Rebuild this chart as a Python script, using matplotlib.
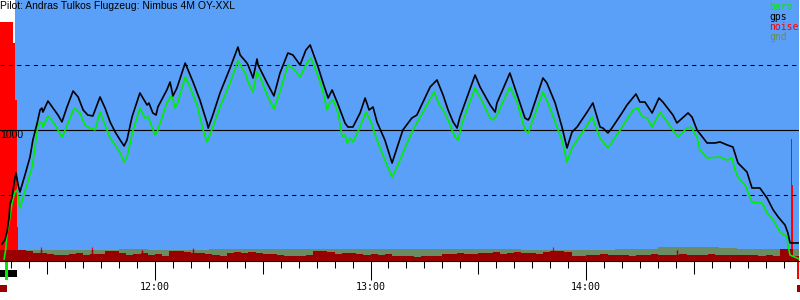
import numpy as np
import matplotlib
matplotlib.use("Agg")
import matplotlib.pyplot as plt
import matplotlib.transforms as mtransforms

title = "Pilot: Andras Tulkos Flugzeug: Nimbus 4M OY-XXL"
legend_names = ["baro", "gps", "noise", "gnd"]

# times in minutes after midnight, altitudes in metres
gps_t = [677.4, 678.2, 678.8, 679.4, 679.6, 680.2, 680.5, 681.0, 681.3, 681.9,
         682.4, 683.8, 685.2, 686.0, 687.2, 688.0, 688.5, 688.8, 690.2, 691.6,
         693.0, 694.1, 695.5, 697.2, 698.6, 700.0, 701.3, 702.7, 704.7, 706.1,
         707.5, 708.9, 710.3, 711.4, 712.2, 713.6, 715.8, 717.8, 718.3, 719.4,
         720.3, 720.8, 723.3, 724.2, 725.0, 726.1, 728.4, 729.2, 730.6, 732.5,
         734.5, 734.8, 736.1, 738.1, 740.9, 743.1, 743.7, 745.6, 745.9, 747.3,
         748.4, 748.7, 751.2, 753.1, 754.8, 757.0, 758.4, 760.4, 762.0, 763.2,
         765.4, 766.8, 768.2, 769.3, 770.7, 772.9, 773.7, 775.1, 777.1, 778.5,
         779.6, 780.7, 781.8, 784.0, 786.0, 789.0, 791.5, 792.9, 796.6, 798.5,
         800.2, 801.6, 803.0, 804.1, 804.9, 809.1, 810.5, 813.3, 814.7, 815.2,
         818.8, 820.2, 823.0, 823.9, 824.4, 828.0, 829.1, 831.4, 833.3, 834.7,
         836.1, 837.5, 840.3, 841.9, 843.9, 844.7, 846.1, 847.2, 850.0, 851.4,
         853.9, 855.0, 856.4, 858.4, 860.3, 861.4, 864.2, 865.3, 868.4, 869.5,
         870.9, 873.7, 875.9, 877.3, 879.3, 880.9, 882.3, 884.8, 886.2, 888.4,
         890.4, 892.1, 893.5, 895.4, 896.2, 896.8, 899.3]
gps_alt = [123, 154, 215, 331, 423, 485, 538, 631, 669, 577,
           523, 654, 792, 923, 1054, 1154, 1169, 1138, 1223, 1169,
           1115, 1062, 1177, 1300, 1254, 1154, 1115, 1108, 1254, 1169,
           1062, 985, 923, 877, 923, 1100, 1285, 1192, 1208, 1131,
           1115, 1177, 1308, 1369, 1262, 1323, 1515, 1462, 1369, 1231,
           1054, 1015, 1115, 1285, 1477, 1638, 1577, 1515, 1500, 1400,
           1546, 1500, 1362, 1262, 1438, 1592, 1577, 1500, 1615, 1654,
           1485, 1362, 1246, 1308, 1215, 1054, 1023, 1023, 1131, 1246,
           1154, 1177, 1062, 923, 746, 1000, 1092, 1115, 1331, 1385,
           1269, 1154, 1062, 1015, 1100, 1423, 1331, 1192, 1138, 1208,
           1438, 1323, 1092, 1077, 1100, 1400, 1362, 1208, 1023, 862,
           985, 1023, 1138, 1208, 1023, 1015, 977, 1015, 1131, 1192,
           1277, 1215, 1215, 1131, 1246, 1215, 1115, 1054, 1131, 1100,
           1000, 900, 900, 908, 885, 869, 746, 677, 554, 554,
           477, 385, 331, 269, 208, 131, 131]

baro_t = [678.0, 678.5, 678.8, 679.4, 679.9, 680.2, 681.0, 681.6, 682.4, 683.3,
          684.1, 685.8, 686.6, 687.4, 688.0, 688.5, 688.8, 690.2, 691.6, 692.7,
          694.1, 695.0, 697.5, 699.1, 700.5, 701.9, 703.3, 704.7, 706.1, 707.5,
          708.9, 710.3, 711.4, 712.2, 713.9, 715.8, 717.2, 718.1, 720.0, 720.6,
          723.3, 724.7, 725.6, 726.4, 728.4, 729.7, 731.7, 733.4, 734.5, 735.3,
          738.1, 740.9, 743.1, 745.1, 745.9, 747.3, 748.4, 749.2, 751.2, 753.1,
          754.8, 757.0, 758.4, 760.4, 762.3, 763.4, 765.1, 766.5, 767.9, 768.7,
          769.6, 771.0, 772.1, 772.9, 773.5, 774.3, 775.1, 777.1, 778.7, 779.9,
          781.8, 784.0, 786.0, 787.4, 790.2, 791.8, 797.7, 799.3, 800.2, 801.6,
          803.5, 804.4, 805.5, 809.1, 811.3, 813.3, 814.1, 815.2, 818.8, 820.8,
          823.0, 823.9, 828.0, 829.4, 831.4, 833.3, 834.7, 836.1, 840.3, 841.7,
          843.9, 846.1, 849.5, 853.1, 854.5, 855.0, 855.9, 857.0, 858.4, 860.6,
          864.2, 865.6, 868.1, 869.2, 870.9, 871.7, 873.7, 877.3, 879.3, 880.6,
          881.5, 882.3, 884.3, 886.2, 889.0, 890.4, 892.1, 894.0, 896.0, 896.2,
          896.8, 899.3]
baro_alt = [8, 92, 208, 292, 385, 438, 523, 538, 400, 485,
            554, 715, 869, 1038, 1062, 1054, 1023, 1108, 1062, 1015,
            946, 1000, 1169, 1131, 1038, 1015, 1000, 1138, 1038, 938,
            885, 823, 754, 792, 1000, 1169, 1092, 1100, 962, 985,
            1208, 1269, 1169, 1215, 1408, 1331, 1192, 1000, 908, 962,
            1177, 1362, 1531, 1438, 1369, 1292, 1446, 1408, 1269, 1162,
            1292, 1500, 1477, 1408, 1515, 1554, 1438, 1323, 1154, 1215,
            1231, 1131, 946, 962, 900, 938, 908, 1023, 1138, 1077,
            923, 769, 638, 715, 900, 1000, 1292, 1185, 1154, 1077,
            946, 923, 1054, 1323, 1208, 1092, 1077, 1115, 1331, 1215,
            1000, 977, 1292, 1208, 1062, 923, 754, 862, 1038, 1100,
            938, 862, 1000, 1154, 1169, 1131, 1100, 1092, 1023, 1138,
            1000, 946, 1015, 1023, 946, 846, 785, 792, 769, 785,
            692, 638, 577, 446, 438, 362, 308, 215, 177, 115,
            38, 8]

gnd_edges = [676.8, 700, 710, 718, 735, 745, 760, 775, 782, 795,
             810, 822, 835, 842, 848, 860, 877, 882, 899.4]
gnd_alt = [77, 77, 85, 80, 85, 85, 85, 88, 85, 85,
           85, 80, 77, 77, 85, 100, 92, 85]

# engine noise level (0..1000): launch, 2-minute samples 682..896, landing
noise_launch_edges = [676.9, 680.5, 681.0, 681.6, 682.0]
noise_launch = [916, 835, 617, 130]
noise_flight = [42, 38, 31, 31, 27, 23, 23, 27, 31, 23,
                27, 27, 38, 38, 31, 23, 27, 31, 23, 27,
                19, 38, 38, 34, 31, 31, 27, 23, 19, 31,
                34, 31, 34, 31, 27, 27, 23, 19, 19, 19,
                23, 38, 38, 34, 27, 31, 31, 27, 23, 27,
                23, 27, 19, 19, 19, 15, 19, 19, 19, 27,
                27, 31, 27, 27, 31, 31, 34, 27, 31, 34,
                31, 31, 27, 34, 38, 38, 34, 19, 19, 23,
                23, 27, 23, 23, 23, 19, 23, 23, 27, 23,
                23, 23, 27, 23, 23, 23, 27, 23, 23, 23,
                23, 23, 23, 19, 23, 19, 46]
noise_landing_edges = [896.0, 897.0, 897.3, 897.6, 899.3]
noise_landing = [46, 467, 291, 19]
spike_t = [688.3, 702.5, 716.4, 730.6, 830.8, 865.3]
spike_enl = [54, 54, 42, 50, 54, 42]

hour_ticks = [720, 780, 840]
flight_window = (681.0, 899.3)
launch_bar = (676.9, 681.6)
release_bar = (678.2, 679.0)
start_mark = (676.9, 678.8)
landing_bar = (898.8, 899.3)
end_mark = (898.8, 899.5)

BLUE = "#5a9ff8"
GND = "#6b8b62"
DARKRED = "#9b0000"
AX_H = 261.0  # axes height in px

fig = plt.figure(figsize=(8, 3), dpi=100)
ax = fig.add_axes([0, 39 / 300, 799 / 800, 261 / 300])
ax.set_facecolor("white")
ax.set_xlim(676.85, 899.29)
ax.set_ylim(-7.7, 2000)

ax.axvspan(*flight_window, color=BLUE, lw=0, zorder=0.5)

gnd_patch = ax.stairs(gnd_alt, gnd_edges, baseline=-50, fill=True,
                      color=GND, lw=0, zorder=1)

noise_edges = noise_launch_edges + list(np.arange(684, 897, 2)) + noise_landing_edges[1:]
noise_vals = noise_launch + noise_flight + noise_landing
noise_tr = mtransforms.Affine2D().scale(1, 0.001) + ax.get_xaxis_transform()

ax.stairs(noise_vals, noise_edges, fill=True, color="#ff0000", lw=0,
          transform=noise_tr, zorder=2)
ax.vlines(spike_t, 0, spike_enl, color="#ff0000", lw=0.9, transform=noise_tr, zorder=2)
dark = ax.stairs(noise_vals, noise_edges, fill=True, color=DARKRED, lw=0,
                 transform=noise_tr, zorder=2.1)
dark.set_clip_path(gnd_patch)
dark_sp = ax.vlines(spike_t, 0, spike_enl, color=DARKRED, lw=0.9,
                    transform=noise_tr, zorder=2.1)
dark_sp.set_clip_path(gnd_patch)

ax.axhline(1000, color="black", lw=0.8, zorder=3)
for lvl in (500, 1500):
    ax.axhline(lvl, color="black", lw=0.75, ls=(0, (4, 4)), zorder=3)

ax.plot(baro_t, baro_alt, color="#00ee00", lw=1.2, zorder=4)
ax.plot(gps_t, gps_alt, color="black", lw=1.2, zorder=5)

ax.text(0, 1000, "1000", transform=ax.get_yaxis_transform(), ha="left",
        va="top", fontsize=7.5, family="Liberation Sans", zorder=6)

# axis and ticks
for s in ("left", "right", "top"):
    ax.spines[s].set_visible(False)
ax.spines["bottom"].set_linewidth(0.8)
ax.set_yticks([])
ax.set_xticks(hour_ticks)
ax.set_xticklabels([f"{t // 60}:{t % 60:02d}" for t in hour_ticks],
                   family="DejaVu Sans Mono", fontsize=7.2)
minor = [m for m in range(680, 900, 5) if m % 30 != 0]
ax.set_xticks(minor, minor=True)
ax.tick_params(axis="x", which="major", length=13.7, width=0.75, pad=1.5)
ax.tick_params(axis="x", which="minor", length=5, width=0.75)
half = [m for m in range(690, 900, 60)]
ax.vlines(half, 0, -12.5 / AX_H, transform=ax.get_xaxis_transform(),
          color="black", lw=0.75, clip_on=False)

ax.axvspan(*launch_bar, ymin=-16 / AX_H, ymax=-9 / AX_H, color="black", lw=0, clip_on=False)
ax.axvspan(*release_bar, ymin=-19 / AX_H, ymax=0, color="#00ee00", lw=0, clip_on=False)
ax.axvspan(*start_mark, ymin=-31 / AX_H, ymax=-24 / AX_H, color=DARKRED, lw=0, clip_on=False)
ax.axvspan(*landing_bar, ymin=-18 / AX_H, ymax=0, color="#ff0000", lw=0, clip_on=False)
ax.axvspan(*end_mark, ymin=-31 / AX_H, ymax=-24 / AX_H, color=DARKRED, lw=0, clip_on=False)

fig.text(0, 1 - 1 / 300, title, ha="left", va="top", fontsize=7.5,
         family="Liberation Sans")
leg_colors = ["#00ee00", "black", "#ff0000", GND]
for i, (name, c) in enumerate(zip(legend_names, leg_colors)):
    fig.text(769 / 800, 1 - (7.5 + 10 * i) / 300, name, ha="left", va="center",
             fontsize=7, family="DejaVu Sans Mono", color=c)

fig.savefig("out.png", dpi=100)
